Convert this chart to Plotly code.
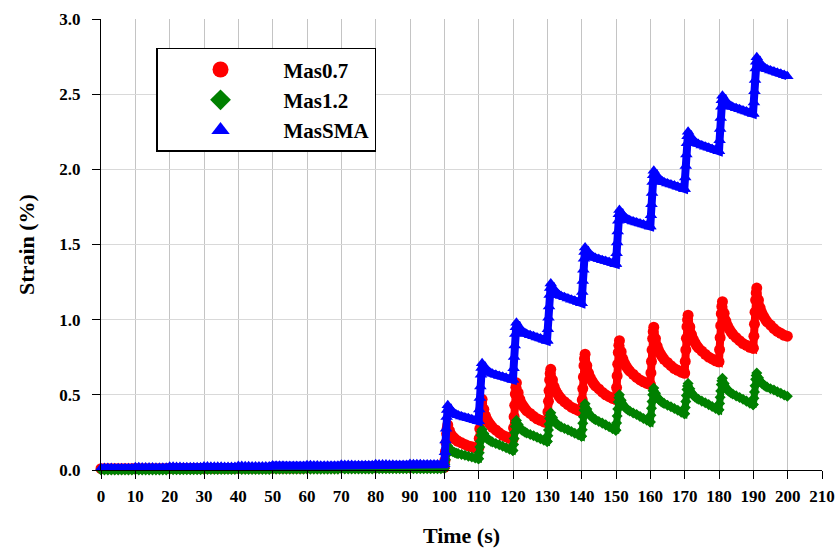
import plotly.graph_objects as go

# ---------------- data ----------------
SERIES_NAMES = ["Mas0.7", "Mas1.2", "MasSMA"]

PRE_TIMES = list(range(0, 100))          # seconds 0..99 (creep before cycling)
CYCLE_STARTS = [100, 110, 120, 130, 140, 150, 160, 170, 180, 190]
CYCLE_OFFSETS = [0.0, 0.17, 0.33, 0.5, 0.67, 0.83, 1.0, 1.5, 2.0, 2.5,
                 3.0, 3.5, 4.0, 5.0, 6.0, 7.0, 8.0, 9.0, 9.9]

red_pre = [
    [0.009, 0.009, 0.008, 0.008, 0.008, 0.008, 0.008, 0.008, 0.008, 0.008],
    [0.010, 0.009, 0.009, 0.009, 0.009, 0.009, 0.009, 0.009, 0.009, 0.009],
    [0.011, 0.010, 0.010, 0.010, 0.010, 0.010, 0.010, 0.010, 0.010, 0.010],
    [0.012, 0.011, 0.011, 0.011, 0.011, 0.011, 0.011, 0.011, 0.011, 0.011],
    [0.013, 0.012, 0.012, 0.012, 0.012, 0.012, 0.012, 0.012, 0.012, 0.012],
    [0.014, 0.013, 0.013, 0.013, 0.013, 0.013, 0.013, 0.013, 0.013, 0.013],
    [0.015, 0.014, 0.014, 0.014, 0.014, 0.014, 0.014, 0.014, 0.014, 0.014],
    [0.016, 0.015, 0.015, 0.015, 0.015, 0.015, 0.015, 0.015, 0.015, 0.015],
    [0.017, 0.016, 0.016, 0.016, 0.016, 0.016, 0.016, 0.016, 0.016, 0.016],
    [0.018, 0.017, 0.017, 0.017, 0.017, 0.017, 0.017, 0.017, 0.017, 0.017],
]
green_pre = [
    [0.001, 0.001, 0.000, 0.000, 0.000, 0.000, 0.000, 0.000, 0.000, 0.000],
    [0.002, 0.001, 0.001, 0.001, 0.001, 0.001, 0.001, 0.001, 0.001, 0.001],
    [0.003, 0.002, 0.002, 0.002, 0.002, 0.002, 0.002, 0.002, 0.002, 0.002],
    [0.004, 0.003, 0.003, 0.003, 0.003, 0.003, 0.003, 0.003, 0.003, 0.003],
    [0.005, 0.004, 0.004, 0.004, 0.004, 0.004, 0.004, 0.004, 0.004, 0.004],
    [0.006, 0.005, 0.005, 0.005, 0.005, 0.005, 0.005, 0.005, 0.005, 0.005],
    [0.007, 0.006, 0.006, 0.006, 0.006, 0.006, 0.006, 0.006, 0.006, 0.006],
    [0.008, 0.007, 0.007, 0.007, 0.007, 0.007, 0.007, 0.007, 0.007, 0.007],
    [0.009, 0.008, 0.008, 0.008, 0.008, 0.008, 0.008, 0.008, 0.008, 0.008],
    [0.010, 0.009, 0.009, 0.009, 0.009, 0.009, 0.009, 0.009, 0.009, 0.009],
]
blue_pre = [
    [0.012, 0.013, 0.013, 0.013, 0.012, 0.012, 0.012, 0.012, 0.012, 0.012],
    [0.019, 0.018, 0.017, 0.017, 0.016, 0.016, 0.015, 0.015, 0.015, 0.015],
    [0.022, 0.021, 0.020, 0.020, 0.019, 0.019, 0.018, 0.018, 0.018, 0.018],
    [0.024, 0.023, 0.022, 0.022, 0.021, 0.021, 0.020, 0.020, 0.020, 0.020],
    [0.027, 0.026, 0.025, 0.025, 0.024, 0.024, 0.023, 0.023, 0.023, 0.023],
    [0.030, 0.029, 0.028, 0.028, 0.027, 0.027, 0.026, 0.026, 0.026, 0.026],
    [0.032, 0.031, 0.030, 0.030, 0.029, 0.029, 0.028, 0.028, 0.028, 0.028],
    [0.035, 0.034, 0.033, 0.033, 0.032, 0.032, 0.031, 0.031, 0.031, 0.031],
    [0.038, 0.037, 0.036, 0.036, 0.035, 0.035, 0.034, 0.034, 0.034, 0.034],
    [0.040, 0.039, 0.038, 0.038, 0.037, 0.037, 0.036, 0.036, 0.036, 0.036],
]

red_cycles = [
    [0.018, 0.064, 0.123, 0.182, 0.241, 0.276, 0.300, 0.261, 0.235, 0.219, 0.209, 0.199, 0.191, 0.181, 0.170, 0.160, 0.154, 0.148, 0.145],
    [0.145, 0.210, 0.275, 0.340, 0.405, 0.444, 0.470, 0.404, 0.359, 0.332, 0.314, 0.298, 0.284, 0.266, 0.247, 0.231, 0.221, 0.210, 0.205],
    [0.205, 0.280, 0.355, 0.430, 0.505, 0.550, 0.580, 0.514, 0.469, 0.442, 0.424, 0.408, 0.394, 0.376, 0.357, 0.341, 0.331, 0.320, 0.315],
    [0.315, 0.386, 0.457, 0.528, 0.599, 0.642, 0.670, 0.600, 0.552, 0.524, 0.505, 0.488, 0.474, 0.454, 0.435, 0.418, 0.407, 0.396, 0.390],
    [0.390, 0.466, 0.542, 0.618, 0.694, 0.740, 0.770, 0.695, 0.644, 0.614, 0.593, 0.575, 0.560, 0.539, 0.518, 0.500, 0.488, 0.476, 0.470],
    [0.470, 0.548, 0.626, 0.704, 0.782, 0.829, 0.860, 0.787, 0.738, 0.709, 0.689, 0.671, 0.657, 0.637, 0.616, 0.599, 0.587, 0.576, 0.570],
    [0.570, 0.646, 0.722, 0.798, 0.874, 0.920, 0.950, 0.874, 0.822, 0.791, 0.770, 0.752, 0.736, 0.715, 0.694, 0.675, 0.663, 0.651, 0.645],
    [0.645, 0.722, 0.799, 0.876, 0.953, 0.999, 1.030, 0.952, 0.900, 0.869, 0.847, 0.828, 0.813, 0.791, 0.770, 0.751, 0.739, 0.726, 0.720],
    [0.720, 0.800, 0.880, 0.960, 1.040, 1.088, 1.120, 1.042, 0.990, 0.959, 0.937, 0.918, 0.903, 0.881, 0.860, 0.841, 0.829, 0.816, 0.810],
    [0.810, 0.890, 0.970, 1.050, 1.130, 1.178, 1.210, 1.130, 1.076, 1.044, 1.021, 1.002, 0.986, 0.964, 0.941, 0.922, 0.909, 0.896, 0.890],
]
green_cycles = [
    [0.010, 0.038, 0.069, 0.099, 0.130, 0.148, 0.160, 0.143, 0.129, 0.122, 0.117, 0.112, 0.109, 0.103, 0.098, 0.092, 0.086, 0.080, 0.075],
    [0.075, 0.114, 0.153, 0.192, 0.231, 0.254, 0.270, 0.242, 0.220, 0.207, 0.199, 0.192, 0.186, 0.176, 0.168, 0.158, 0.148, 0.138, 0.130],
    [0.130, 0.170, 0.210, 0.250, 0.290, 0.314, 0.330, 0.302, 0.280, 0.267, 0.259, 0.252, 0.246, 0.236, 0.228, 0.218, 0.208, 0.198, 0.190],
    [0.190, 0.228, 0.266, 0.304, 0.342, 0.365, 0.380, 0.349, 0.324, 0.310, 0.301, 0.293, 0.287, 0.276, 0.267, 0.256, 0.245, 0.234, 0.225],
    [0.225, 0.268, 0.311, 0.354, 0.397, 0.423, 0.440, 0.405, 0.377, 0.361, 0.351, 0.342, 0.335, 0.323, 0.312, 0.300, 0.288, 0.275, 0.265],
    [0.265, 0.312, 0.359, 0.406, 0.453, 0.481, 0.500, 0.464, 0.435, 0.419, 0.408, 0.399, 0.392, 0.379, 0.369, 0.356, 0.343, 0.331, 0.320],
    [0.320, 0.365, 0.410, 0.455, 0.500, 0.527, 0.545, 0.511, 0.484, 0.468, 0.458, 0.450, 0.443, 0.431, 0.421, 0.409, 0.397, 0.385, 0.375],
    [0.375, 0.415, 0.455, 0.495, 0.535, 0.559, 0.575, 0.540, 0.512, 0.496, 0.486, 0.477, 0.470, 0.458, 0.447, 0.435, 0.423, 0.410, 0.400],
    [0.400, 0.442, 0.484, 0.526, 0.568, 0.593, 0.610, 0.575, 0.547, 0.531, 0.521, 0.512, 0.505, 0.493, 0.482, 0.470, 0.458, 0.445, 0.435],
    [0.435, 0.477, 0.519, 0.561, 0.603, 0.628, 0.645, 0.614, 0.589, 0.575, 0.566, 0.558, 0.552, 0.541, 0.532, 0.521, 0.510, 0.499, 0.490],
]
blue_cycles = [
    [0.038, 0.118, 0.196, 0.274, 0.352, 0.399, 0.430, 0.407, 0.390, 0.380, 0.373, 0.368, 0.364, 0.356, 0.350, 0.344, 0.338, 0.331, 0.325],
    [0.325, 0.402, 0.479, 0.556, 0.633, 0.679, 0.710, 0.686, 0.668, 0.657, 0.651, 0.645, 0.641, 0.633, 0.626, 0.620, 0.613, 0.607, 0.600],
    [0.600, 0.676, 0.752, 0.828, 0.904, 0.950, 0.980, 0.954, 0.934, 0.922, 0.915, 0.909, 0.904, 0.896, 0.889, 0.882, 0.874, 0.867, 0.860],
    [0.860, 0.936, 1.012, 1.088, 1.164, 1.210, 1.240, 1.211, 1.191, 1.178, 1.170, 1.163, 1.158, 1.149, 1.141, 1.133, 1.126, 1.118, 1.110],
    [1.110, 1.184, 1.258, 1.332, 1.406, 1.450, 1.480, 1.456, 1.438, 1.427, 1.421, 1.415, 1.411, 1.403, 1.396, 1.390, 1.383, 1.377, 1.370],
    [1.370, 1.442, 1.514, 1.586, 1.658, 1.701, 1.730, 1.706, 1.688, 1.677, 1.671, 1.665, 1.661, 1.653, 1.646, 1.640, 1.633, 1.627, 1.620],
    [1.620, 1.694, 1.768, 1.842, 1.916, 1.960, 1.990, 1.964, 1.944, 1.932, 1.925, 1.919, 1.914, 1.906, 1.899, 1.892, 1.884, 1.877, 1.870],
    [1.870, 1.946, 2.022, 2.098, 2.174, 2.220, 2.250, 2.221, 2.201, 2.188, 2.180, 2.173, 2.168, 2.159, 2.151, 2.143, 2.136, 2.128, 2.120],
    [2.120, 2.194, 2.268, 2.342, 2.416, 2.460, 2.490, 2.464, 2.444, 2.432, 2.425, 2.419, 2.414, 2.406, 2.399, 2.392, 2.384, 2.377, 2.370],
    [2.370, 2.445, 2.520, 2.595, 2.670, 2.715, 2.745, 2.717, 2.697, 2.685, 2.677, 2.671, 2.666, 2.657, 2.650, 2.642, 2.635, 2.627, 2.620],
]

X_TICKS = list(range(0, 211, 10))
Y_TICKS = [0.0, 0.5, 1.0, 1.5, 2.0, 2.5, 3.0]


def assemble(pre_blocks, cycles):
    xs = list(PRE_TIMES)
    ys = [v for block in pre_blocks for v in block]
    for start, vals in zip(CYCLE_STARTS, cycles):
        xs += [start + o for o in CYCLE_OFFSETS]
        ys += vals
    return xs, ys


FONT = "Liberation Serif"
# colour, symbol, data marker size, filler line width
styles = [
    ("#ff0000", "circle", 11, 8),
    ("#008000", "diamond", 8.5, 7),
    ("#0000ff", "triangle-up", 11, 8),
]
series = [(red_pre, red_cycles), (green_pre, green_cycles), (blue_pre, blue_cycles)]

fig = go.Figure()
for name, (pre, cyc), (col, sym, sz, lw) in zip(SERIES_NAMES, series, styles):
    xs, ys = assemble(pre, cyc)
    fig.add_trace(go.Scatter(
        x=xs, y=ys, mode="lines+markers", name=name, showlegend=False,
        legendgroup=name, cliponaxis=False,
        line=dict(color=col, width=lw),
        marker=dict(color=col, symbol=sym, size=sz, line=dict(width=0)),
    ))
# legend entries with larger symbols
for name, (col, sym, sz, lw) in zip(SERIES_NAMES, styles):
    fig.add_trace(go.Scatter(
        x=[None], y=[None], mode="markers", name=name, legendgroup=name,
        marker=dict(color=col, symbol=sym, size=16, line=dict(width=0)),
    ))

TICKFONT = dict(family=FONT, size=17, color="black", weight="bold")
TITLEFONT = dict(family=FONT, size=22, color="black", weight="bold")

fig.update_layout(
    width=836, height=549,
    margin=dict(l=101, r=14, t=19, b=79, autoexpand=False),
    paper_bgcolor="white", plot_bgcolor="white",
    font=dict(family=FONT, size=17, color="black", weight="bold"),
    showlegend=True,
    legend=dict(
        x=0.0763, y=0.936, xanchor="left", yanchor="top",
        bgcolor="white", bordercolor="black", borderwidth=1.5,
        font=dict(family=FONT, size=21, color="black", weight="bold"),
        itemwidth=116, tracegroupgap=0,
    ),
    xaxis=dict(
        range=[0, 210], tickvals=X_TICKS, ticktext=[str(t) for t in X_TICKS],
        tickfont=TICKFONT, automargin=False, ticklabelstandoff=3,
        showgrid=True, gridcolor="#c4c4c4", gridwidth=1,
        showline=True, linecolor="black", linewidth=1,
        ticks="outside", ticklen=8, tickcolor="black", tickwidth=1,
        zeroline=False,
        title=dict(text="Time (s)", font=TITLEFONT, standoff=22),
    ),
    yaxis=dict(
        range=[0, 3], tickvals=Y_TICKS, ticktext=["%.1f" % v for v in Y_TICKS],
        tickfont=TICKFONT, automargin=False,
        showgrid=True, gridcolor="#d9d9d9", gridwidth=1,
        showline=True, linecolor="black", linewidth=1,
        ticks="outside", ticklen=8, tickcolor="black", tickwidth=1,
        zeroline=False, ticklabelstandoff=8,
        title=dict(text="Strain (%)", font=TITLEFONT, standoff=18),
    ),
)

fig.write_html("out.html")
